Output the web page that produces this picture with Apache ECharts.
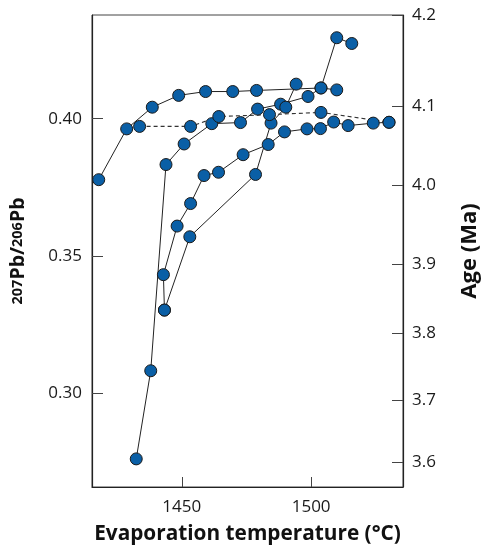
<!DOCTYPE html>
<html><head><meta charset="utf-8">
<script src="https://cdn.jsdelivr.net/npm/echarts@6/dist/echarts.min.js"></script>
<style>html,body{margin:0;padding:0;background:#fff}#c{width:489px;height:550px}</style>
</head><body><div id="c"></div>
<script>
// axis ranges and ticks
const xRange = [1415.3, 1535.5];
const ratioRange = [0.26586, 0.43778];
const xTickValues = [1450, 1500];
const ratioTickValues = [0.30, 0.35, 0.40];
const ageTickLabels = ['3.6', '3.7', '3.8', '3.9', '4.0', '4.1', '4.2'];
const ageTickRatios = [0.27486, 0.29731, 0.32180, 0.34697, 0.37577, 0.40472, 0.43778];

// series A
const tempA  = [1417.9, 1428.7, 1438.6, 1448.8, 1459.2, 1469.7, 1478.9, 1503.8, 1509.9];
const ratioA = [0.3778, 0.3963, 0.4042, 0.4085, 0.4099, 0.4099, 0.4103, 0.4112, 0.4105];
// series B
const tempB  = [1432.4, 1438.0, 1443.9, 1450.9, 1461.6, 1472.7, 1479.3, 1488.2, 1498.8, 1503.8, 1509.9, 1515.7];
const ratioB = [0.2761, 0.3082, 0.3833, 0.3908, 0.3982, 0.3986, 0.4035, 0.4053, 0.4081, 0.4112, 0.4295, 0.4274];
// series C
const tempC  = [1443.3, 1442.9, 1448.2, 1453.4, 1458.6, 1464.2, 1473.7, 1483.4, 1489.7, 1498.4, 1503.6, 1508.7, 1514.3, 1524.0, 1530.1];
const ratioC = [0.3303, 0.3432, 0.3609, 0.3691, 0.3793, 0.3805, 0.3869, 0.3906, 0.3952, 0.3963, 0.3964, 0.3988, 0.3975, 0.3984, 0.3987];
// series D
const tempD  = [1443.3, 1453.1, 1478.5, 1484.5, 1490.2, 1494.2];
const ratioD = [0.3303, 0.3570, 0.3797, 0.3984, 0.4042, 0.4126];
// series E (dashed)
const tempE  = [1433.7, 1453.4, 1464.3, 1483.9, 1503.8, 1530.1];
const ratioE = [0.3972, 0.3972, 0.4008, 0.4015, 0.4023, 0.3987];

const FONT = 'Open Sans';
const groups = [
  {t: tempA, r: ratioA, dashed: false},
  {t: tempB, r: ratioB, dashed: false},
  {t: tempC, r: ratioC, dashed: false},
  {t: tempD, r: ratioD, dashed: false},
  {t: tempE, r: ratioE, dashed: true}
];
const series = [];
groups.forEach(g => {
  const data = g.t.map((t, i) => [t, g.r[i]]);
  series.push({
    type: 'line', data: data, symbol: 'none', z: 2, silent: true,
    lineStyle: g.dashed ? {color: '#333', width: 1.1, type: [4, 3]} : {color: '#222', width: 1}
  });
});
groups.forEach(g => {
  const data = g.t.map((t, i) => [t, g.r[i]]);
  series.push({
    type: 'scatter', data: data, symbol: 'circle', symbolSize: 12, z: 4, silent: true,
    itemStyle: {color: '#0a5fa6', borderColor: '#1a1a1a', borderWidth: 1, opacity: 1}
  });
});

const chart = echarts.init(document.getElementById('c'), null, {renderer: 'canvas'});
chart.setOption({
  animation: false,
  grid: {left: 89, right: 68, top: 15, bottom: 62, show: true, borderColor: '#444', borderWidth: 1},
  xAxis: {
    type: 'value', min: xRange[0], max: xRange[1],
    name: 'Evaporation temperature (°C)', nameLocation: 'middle', nameGap: 37,
    nameTextStyle: {fontFamily: FONT, fontWeight: 'bold', fontSize: 20.8, color: '#111'},
    axisLine: {show: true, lineStyle: {color: '#222', width: 1.2}},
    axisTick: {show: true, inside: true, length: 10, customValues: xTickValues, lineStyle: {color: '#444'}},
    axisLabel: {customValues: xTickValues, formatter: v => String(Math.round(v)), fontFamily: FONT, fontSize: 17, color: '#1a1a1a', margin: 12},
    splitLine: {show: false}
  },
  yAxis: [{
    type: 'value', position: 'left', min: ratioRange[0], max: ratioRange[1],
    name: '{n|207}{p|Pb/}{n|206}{p|Pb}', nameLocation: 'middle', nameGap: 64,
    nameTextStyle: {rich: {
      n: {fontFamily: FONT, fontWeight: 'bold', fontSize: 14.5, color: '#111'},
      p: {fontFamily: FONT, fontWeight: 'bold', fontSize: 19.5, color: '#111'}
    }},
    axisLine: {show: true, lineStyle: {color: '#222', width: 1.2}},
    axisTick: {show: true, inside: true, length: 11, customValues: ratioTickValues, lineStyle: {color: '#444'}},
    axisLabel: {customValues: ratioTickValues, formatter: v => v.toFixed(2), fontFamily: FONT, fontSize: 17, color: '#1a1a1a', margin: 10},
    splitLine: {show: false}
  }, {
    type: 'value', position: 'right', min: ratioRange[0], max: ratioRange[1],
    name: 'Age (Ma)', nameLocation: 'middle', nameGap: 56,
    nameTextStyle: {fontFamily: FONT, fontWeight: 'bold', fontSize: 22, color: '#111'},
    axisLine: {show: true, lineStyle: {color: '#222', width: 1.2}},
    axisTick: {show: true, inside: true, length: 11, customValues: ageTickRatios, lineStyle: {color: '#444'}},
    axisLabel: {
      customValues: ageTickRatios,
      formatter: v => {
        let best = 0;
        ageTickRatios.forEach((r, i) => { if (Math.abs(r - v) < Math.abs(ageTickRatios[best] - v)) best = i; });
        return ageTickLabels[best];
      },
      fontFamily: FONT, fontSize: 17, color: '#1a1a1a', margin: 9
    },
    splitLine: {show: false}
  }],
  series: series
});
</script>
</body></html>
